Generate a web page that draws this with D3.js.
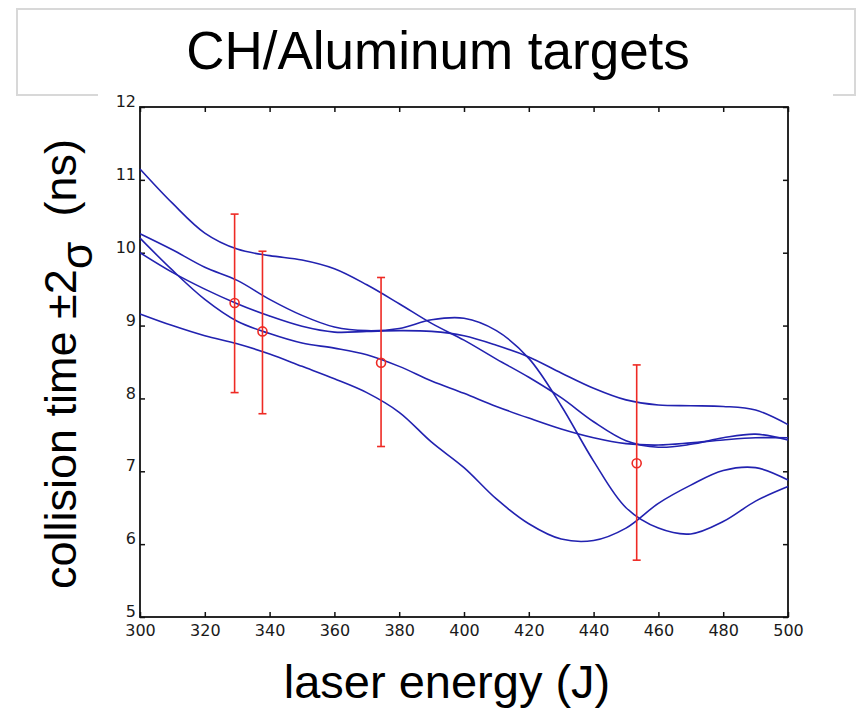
<!DOCTYPE html>
<html>
<head>
<meta charset="utf-8">
<script src="https://cdn.jsdelivr.net/npm/d3@7"></script>
<style>
  body { margin: 0; background: #fff; }
  svg { display: block; }
</style>
</head>
<body>
<svg id="chart"></svg>
<script>
// Page size
const width = 868;
const height = 709;

// Data
const energy = [300, 310, 320, 330, 340, 350, 360, 370, 380, 390, 400,
                410, 420, 430, 440, 450, 460, 470, 480, 490, 500];
const runA = [11.15, 10.68, 10.27, 10.05, 9.96, 9.90, 9.78, 9.56, 9.30, 9.03, 8.80,
              8.54, 8.29, 8.01, 7.68, 7.42, 7.33, 7.37, 7.46, 7.51, 7.43];
const runB = [10.26, 10.04, 9.80, 9.62, 9.36, 9.14, 8.98, 8.93, 8.96, 9.08, 9.10,
              8.93, 8.55, 7.90, 7.14, 6.50, 6.22, 6.14, 6.31, 6.59, 6.79];
const runC = [10.20, 9.76, 9.36, 9.06, 8.89, 8.76, 8.69, 8.60, 8.44, 8.24, 8.07,
              7.89, 7.73, 7.58, 7.46, 7.38, 7.36, 7.39, 7.43, 7.46, 7.46];
const runD = [10.00, 9.73, 9.50, 9.30, 9.13, 8.99, 8.91, 8.92, 8.93, 8.92, 8.86,
              8.73, 8.57, 8.35, 8.14, 7.98, 7.91, 7.90, 7.89, 7.84, 7.64];
const runE = [9.16, 9.00, 8.86, 8.75, 8.61, 8.44, 8.27, 8.08, 7.81, 7.40, 7.05,
              6.62, 6.28, 6.07, 6.05, 6.22, 6.56, 6.81, 7.01, 7.05, 6.88];
const runs = [runA, runB, runC, runD, runE];

// Measured points with +-2 sigma bars
const measEnergy = [329.2, 337.8, 374.4, 453.3];
const measTime = [9.31, 8.92, 8.49, 7.11];
const measLow = [8.08, 7.79, 7.34, 5.78];
const measHigh = [10.53, 10.02, 9.66, 8.46];

const xTicks = [300, 320, 340, 360, 380, 400, 420, 440, 460, 480, 500];
const yTicks = [5, 6, 7, 8, 9, 10, 11, 12];

const plot = { left: 140, right: 788, top: 107, bottom: 617 };

const svg = d3.select('#chart')
    .attr('width', width)
    .attr('height', height);

// Title box (slide frame), partly hidden behind the plot image
svg.append('rect')
    .attr('x', 17).attr('y', 9)
    .attr('width', 838).attr('height', 86)
    .attr('fill', 'none')
    .attr('stroke', '#d8d8d8')
    .attr('stroke-width', 2);

svg.append('rect')
    .attr('x', 98).attr('y', 88)
    .attr('width', 735).attr('height', 560)
    .attr('fill', '#fff');

svg.append('text')
    .attr('x', 438).attr('y', 69)
    .attr('text-anchor', 'middle')
    .attr('font-family', 'Liberation Sans, Arial, sans-serif')
    .attr('font-size', 53)
    .attr('fill', '#000')
    .text('CH/Aluminum targets');

// Scales
const x = d3.scaleLinear().domain([300, 500]).range([plot.left, plot.right]);
const y = d3.scaleLinear().domain([5, 12]).range([plot.bottom, plot.top]);

// Axes, ticks pointing inward
const tickFont = 'DejaVu Sans, sans-serif';
const fmt = d3.format('d');

svg.append('g')
    .attr('transform', `translate(0,${plot.bottom})`)
    .call(d3.axisBottom(x).tickValues(xTicks).tickFormat(fmt)
      .tickSize(-5).tickSizeOuter(0).tickPadding(8));

svg.append('g')
    .attr('transform', `translate(0,${plot.top})`)
    .call(d3.axisTop(x).tickValues(xTicks).tickSize(-5).tickSizeOuter(0).tickFormat(''));

const yAxis = svg.append('g')
    .attr('transform', `translate(${plot.left},0)`)
    .call(d3.axisLeft(y).tickValues(yTicks).tickFormat(fmt)
      .tickSize(-5).tickSizeOuter(0).tickPadding(4));

svg.append('g')
    .attr('transform', `translate(${plot.right},0)`)
    .call(d3.axisRight(y).tickValues(yTicks).tickSize(-5).tickSizeOuter(0).tickFormat(''));

svg.selectAll('.domain').remove();
svg.selectAll('.tick line').attr('stroke', '#111').attr('stroke-width', 1.5);
svg.selectAll('.tick text')
    .attr('font-family', tickFont)
    .attr('font-size', 16)
    .attr('fill', '#1a1a1a');
yAxis.selectAll('.tick text').attr('dy', '-0.02em');

// Frame
svg.append('rect')
    .attr('x', plot.left).attr('y', plot.top)
    .attr('width', plot.right - plot.left)
    .attr('height', plot.bottom - plot.top)
    .attr('fill', 'none')
    .attr('stroke', '#111')
    .attr('stroke-width', 1.8);

// Model curves
const line = d3.line()
    .x((d, i) => x(energy[i]))
    .y(d => y(d))
    .curve(d3.curveCatmullRom.alpha(0.5));

svg.append('g')
    .selectAll('path')
    .data(runs)
    .enter()
    .append('path')
    .attr('d', line)
    .attr('fill', 'none')
    .attr('stroke', '#2222b0')
    .attr('stroke-width', 1.6);

// Measurements
const red = '#ee2a24';
const meas = svg.append('g')
    .selectAll('g')
    .data(measEnergy)
    .enter()
    .append('g')
    .attr('stroke', red)
    .attr('stroke-width', 1.6)
    .attr('fill', 'none');

meas.append('line')
    .attr('x1', d => x(d)).attr('x2', d => x(d))
    .attr('y1', (d, i) => y(measLow[i]))
    .attr('y2', (d, i) => y(measHigh[i]));

meas.append('line')
    .attr('x1', d => x(d) - 4).attr('x2', d => x(d) + 4)
    .attr('y1', (d, i) => y(measHigh[i]))
    .attr('y2', (d, i) => y(measHigh[i]));

meas.append('line')
    .attr('x1', d => x(d) - 4).attr('x2', d => x(d) + 4)
    .attr('y1', (d, i) => y(measLow[i]))
    .attr('y2', (d, i) => y(measLow[i]));

meas.append('circle')
    .attr('cx', d => x(d))
    .attr('cy', (d, i) => y(measTime[i]))
    .attr('r', 4.5);

// Axis titles
svg.append('text')
    .attr('x', 447).attr('y', 698)
    .attr('text-anchor', 'middle')
    .attr('font-family', 'Liberation Sans, Arial, sans-serif')
    .attr('font-size', 47)
    .attr('fill', '#000')
    .text('laser energy (J)');

const yTitle = svg.append('text')
    .attr('transform', 'translate(76,364) rotate(-90)')
    .attr('text-anchor', 'middle')
    .attr('font-family', 'Liberation Sans, Arial, sans-serif')
    .attr('font-size', 45)
    .attr('fill', '#000');
yTitle.append('tspan').text('collision time \u00b12');
yTitle.append('tspan').attr('dy', 16).text('\u03c3');
yTitle.append('tspan').attr('dy', -16).text('\u00a0\u00a0(ns)');
</script>
</body>
</html>
